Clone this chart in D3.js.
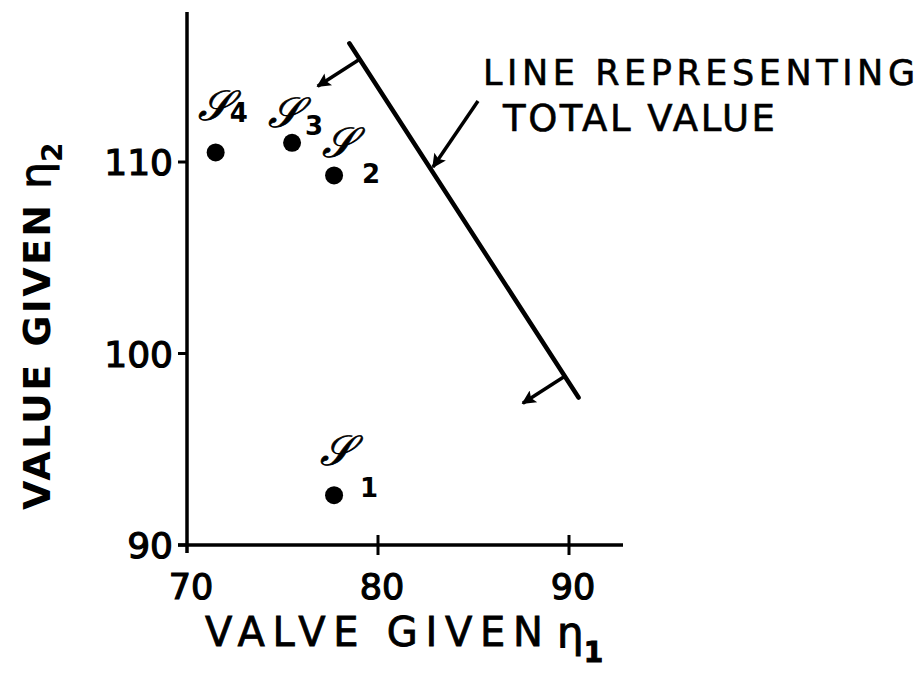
<!DOCTYPE html>
<html>
<head>
<script src="https://cdnjs.cloudflare.com/ajax/libs/d3/7.8.5/d3.min.js"></script>
<style>
  body { margin: 0; background: #fff; }
  text { font-family: "DejaVu Sans", sans-serif; fill: #000; }
</style>
</head>
<body>
<div id="chart"></div>
<script>
// data
const pointIds = ["1", "2", "3", "4"];
const pointX = [77.7, 77.7, 75.5, 71.5];
const pointY = [92.6, 109.3, 111.0, 110.5];
const xTicks = [70, 80, 90];
const yTicks = [90, 100, 110];
// line representing total value (two ends)
const totalLineX = [78.5, 90.5];
const totalLineY = [116.2, 97.7];

const W = 924, H = 687;
const svg = d3.select("#chart").append("svg")
  .attr("width", W).attr("height", H);

const x = d3.scaleLinear().domain([70, 90]).range([187, 569]);
const y = d3.scaleLinear().domain([90, 110]).range([545, 162]);

svg.append("defs").append("marker")
  .attr("id", "head")
  .attr("viewBox", "0 0 10 10")
  .attr("refX", 9).attr("refY", 5)
  .attr("markerWidth", 6).attr("markerHeight", 4)
  .attr("markerUnits", "strokeWidth")
  .attr("orient", "auto")
  .append("path").attr("d", "M0,0 L10,5 L0,10 L2,5 Z").attr("fill", "#000");

// axes
svg.append("line")
  .attr("x1", 187).attr("x2", 187).attr("y1", 12).attr("y2", 553)
  .attr("stroke", "#000").attr("stroke-width", 3.5);
svg.append("line")
  .attr("x1", 178).attr("x2", 623).attr("y1", 545).attr("y2", 545)
  .attr("stroke", "#000").attr("stroke-width", 3.5);

svg.selectAll(".ytick").data(yTicks).enter().append("line")
  .attr("x1", 178).attr("x2", 187)
  .attr("y1", d => y(d)).attr("y2", d => y(d))
  .attr("stroke", "#000").attr("stroke-width", 3);
svg.selectAll(".xtick").data(xTicks.slice(1)).enter().append("line")
  .attr("x1", d => x(d)).attr("x2", d => x(d))
  .attr("y1", 535).attr("y2", 555)
  .attr("stroke", "#000").attr("stroke-width", 3);

svg.selectAll(".ylab").data(yTicks).enter().append("text")
  .attr("x", 173).attr("y", d => y(d) + 13)
  .attr("text-anchor", "end")
  .attr("font-size", 36)
  .attr("stroke", "#000").attr("stroke-width", 1.2)
  .text(d => d);
svg.selectAll(".xlab").data(xTicks).enter().append("text")
  .attr("x", d => x(d) + 4).attr("y", 599)
  .attr("text-anchor", "middle")
  .attr("font-size", 35)
  .attr("stroke", "#000").attr("stroke-width", 1.2)
  .text(d => d);

// axis titles
svg.append("text").attr("x", 205).attr("y", 646)
  .attr("font-size", 40).attr("stroke", "#000").attr("stroke-width", 0.8)
  .attr("textLength", 338).attr("lengthAdjust", "spacing")
  .text("VALVE GIVEN");
const xeta = svg.append("text").attr("x", 557).attr("y", 647)
  .attr("font-size", 42).attr("stroke", "#000").attr("stroke-width", 1);
xeta.append("tspan").text("η");
xeta.append("tspan").attr("dy", 15).attr("font-size", 28).attr("font-weight", "bold").text("1");

const yt = svg.append("text")
  .attr("transform", "translate(50,510) rotate(-90)")
  .attr("font-size", 38).attr("font-weight", "bold");
yt.append("tspan").text("VALUE GIVEN").attr("textLength", 305).attr("lengthAdjust", "spacing");
yt.append("tspan").attr("dx", 14).attr("font-size", 42).attr("font-weight", "normal")
  .attr("stroke", "#000").attr("stroke-width", 1).text("η");
yt.append("tspan").attr("dy", 12).attr("font-size", 28).text("2");

// total value line
svg.append("line")
  .attr("x1", x(totalLineX[0])).attr("y1", y(totalLineY[0]))
  .attr("x2", x(totalLineX[1])).attr("y2", y(totalLineY[1]))
  .attr("stroke", "#000").attr("stroke-width", 4.5).attr("stroke-linecap", "round");

// little direction arrows pointing down-left from the line
[0.045, 0.94].forEach(t => {
  const px = x(totalLineX[0]) + t * (x(totalLineX[1]) - x(totalLineX[0]));
  const py = y(totalLineY[0]) + t * (y(totalLineY[1]) - y(totalLineY[0]));
  svg.append("line")
    .attr("x1", px).attr("y1", py)
    .attr("x2", px - 42).attr("y2", py + 27)
    .attr("stroke", "#000").attr("stroke-width", 3.5)
    .attr("marker-end", "url(#head)");
});

// leader from label to the line
svg.append("line")
  .attr("x1", 478).attr("y1", 101).attr("x2", 433).attr("y2", 167)
  .attr("stroke", "#000").attr("stroke-width", 3.5)
  .attr("marker-end", "url(#head)");

svg.append("text").attr("x", 483).attr("y", 85).attr("font-size", 35)
  .attr("stroke", "#000").attr("stroke-width", 0.6)
  .attr("textLength", 432).attr("lengthAdjust", "spacing")
  .text("LINE REPRESENTING");
svg.append("text").attr("x", 503).attr("y", 131).attr("font-size", 37)
  .attr("stroke", "#000").attr("stroke-width", 0.6)
  .attr("textLength", 272).attr("lengthAdjust", "spacing")
  .text("TOTAL VALUE");

// points
const pts = pointIds.map((id, i) => ({ id, x: pointX[i], y: pointY[i] }));
svg.selectAll(".pt").data(pts).enter().append("circle")
  .attr("cx", d => x(d.x)).attr("cy", d => y(d.y))
  .attr("r", 9).attr("fill", "#000");

// label placement around each point: [glyph dx, glyph dy, index dx, index dy]
const labelOffset = {
  "1": [-14, -30, 26, 2],
  "2": [-12, -18, 28, 8],
  "3": [-24, -16, 13, -8],
  "4": [-18, -32, 14, -30]
};
svg.selectAll(".glyph").data(pts).enter().append("text")
  .attr("x", d => x(d.x) + labelOffset[d.id][0])
  .attr("y", d => y(d.y) + labelOffset[d.id][1])
  .attr("font-family", "DejaVu Serif, serif")
  .attr("font-style", "italic")
  .attr("font-size", 42)
  .attr("stroke", "#000").attr("stroke-width", 0.8)
  .text("𝒮");
svg.selectAll(".idx").data(pts).enter().append("text")
  .attr("x", d => x(d.x) + labelOffset[d.id][2])
  .attr("y", d => y(d.y) + labelOffset[d.id][3])
  .attr("font-size", 26).attr("font-weight", "bold")
  .text(d => d.id);
</script>
</body>
</html>
